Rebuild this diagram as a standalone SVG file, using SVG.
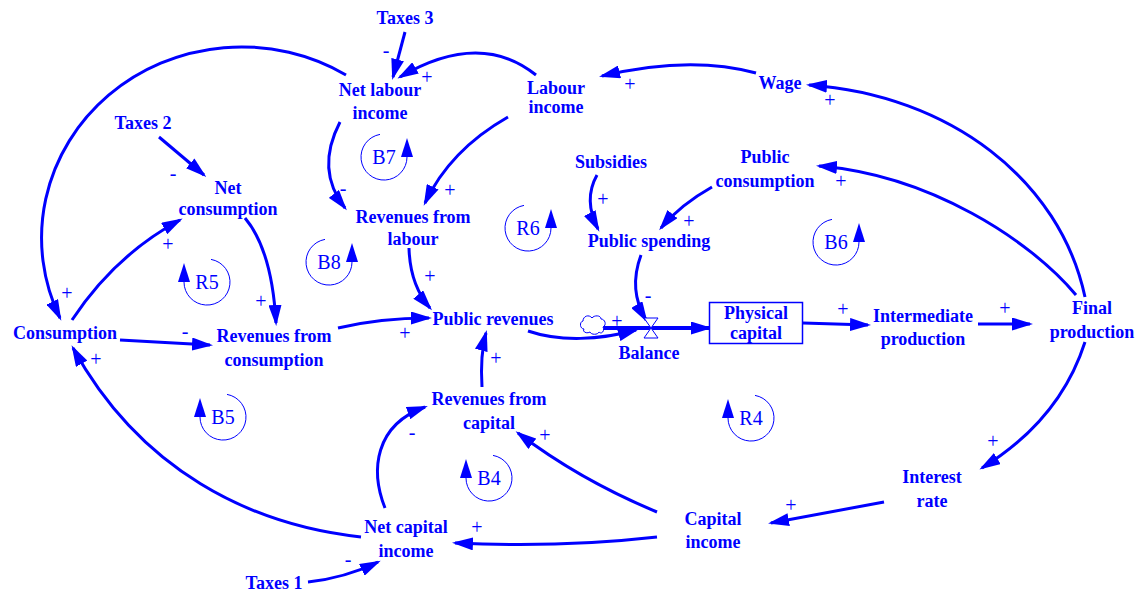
<svg xmlns="http://www.w3.org/2000/svg" width="1141" height="594" viewBox="0 0 1141 594">
<style>
.n{font-family:"Liberation Serif","Times New Roman",serif;font-weight:bold;font-size:18px;fill:#0000ff;text-anchor:middle}
.p{font-family:"Liberation Serif","Times New Roman",serif;font-size:20px;fill:#0000ff;text-anchor:middle}
.l{font-family:"Liberation Serif","Times New Roman",serif;font-size:20px;fill:#0000ff;text-anchor:middle}
.c{fill:none;stroke:#0000ff;stroke-width:3;marker-end:url(#ah)}
.pipe{fill:none;stroke:#0000ff;stroke-width:4;marker-end:url(#ah)}
.lc{fill:none;stroke:#0000ff;stroke-width:1}
.la{fill:#0000ff}
</style>
<defs>
<marker id="ah" viewBox="0 0 21 13" markerWidth="21" markerHeight="13" refX="18" refY="6.5" orient="auto" markerUnits="userSpaceOnUse">
<path d="M0,0 L21,6.5 L0,13 z" fill="#0000ff"/>
</marker>
</defs>
<rect width="1141" height="594" fill="#ffffff"/>

<g id="connectors">
<path class="c" d="M405,32 L393,77"/>
<path class="c" d="M536,75 Q480,30 400,77"/>
<path class="c" d="M346,75 A200,191 0 0 0 60,318"/>
<path class="c" d="M340,122 Q315,170 345,208"/>
<path class="c" d="M508,117 Q450,150 425,203"/>
<path class="c" d="M756,73 Q690,55 602,76"/>
<path class="c" d="M1085,297 C1060,180 950,95 809,85"/>
<path class="c" d="M1076,295 C1030,240 930,175 819,166"/>
<path class="c" d="M159,137 L204,175"/>
<path class="c" d="M72,320 Q115,255 180,220"/>
<path class="c" d="M245,218 Q272,250 276,323"/>
<path class="c" d="M120,340 L210,345"/>
<path class="c" d="M338,328 Q380,318 429,318"/>
<path class="c" d="M409,248 Q410,285 430,308"/>
<path class="c" d="M597,175 Q583,200 598,229"/>
<path class="c" d="M712,187 Q680,205 661,228"/>
<path class="c" d="M641,255 Q628,290 646,320"/>
<path class="c" d="M528,331 C560,342 600,340 636,330"/>
<path class="pipe" d="M602,328 L709,328"/>
<path class="c" d="M803,323 L868,325"/>
<path class="c" d="M978,324 L1030,324"/>
<path class="c" d="M1085,342 Q1060,420 982,468"/>
<path class="c" d="M884,502 L771,523"/>
<path class="c" d="M657,512 Q580,480 518,433"/>
<path class="c" d="M657,537 Q560,548 455,543"/>
<path class="c" d="M361,537 C250,525 140,470 73,348"/>
<path class="c" d="M385,508 C370,470 375,425 425,407"/>
<path class="c" d="M482,387 Q480,355 486,333"/>
<path class="c" d="M308,582 Q345,578 378,562"/>
</g>

<g id="polarities">
<text class="p" x="386" y="57">-</text>
<text class="p" x="427" y="84">+</text>
<text class="p" x="67" y="300">+</text>
<text class="p" x="343" y="195">-</text>
<text class="p" x="450" y="197">+</text>
<text class="p" x="630" y="91">+</text>
<text class="p" x="830" y="107">+</text>
<text class="p" x="841" y="188">+</text>
<text class="p" x="173" y="180">-</text>
<text class="p" x="168" y="251">+</text>
<text class="p" x="261" y="308">+</text>
<text class="p" x="185" y="338">-</text>
<text class="p" x="405" y="340">+</text>
<text class="p" x="430" y="283">+</text>
<text class="p" x="603" y="206">+</text>
<text class="p" x="689" y="228">+</text>
<text class="p" x="648" y="302">-</text>
<text class="p" x="617" y="328">+</text>
<text class="p" x="843" y="316">+</text>
<text class="p" x="1005" y="315">+</text>
<text class="p" x="993" y="448">+</text>
<text class="p" x="791" y="512">+</text>
<text class="p" x="545" y="442">+</text>
<text class="p" x="477" y="534">+</text>
<text class="p" x="96" y="366">+</text>
<text class="p" x="412" y="439">-</text>
<text class="p" x="496" y="365">+</text>
<text class="p" x="348" y="566">-</text>
</g>

<g id="taxes3"><text class="n" x="405" y="24">Taxes 3</text></g>
<g id="net-labour-income"><text class="n" x="380" y="96">Net labour</text><text class="n" x="380" y="119">income</text></g>
<g id="labour-income"><text class="n" x="556" y="94">Labour</text><text class="n" x="556" y="113">income</text></g>
<g id="wage"><text class="n" x="780" y="89">Wage</text></g>
<g id="taxes2"><text class="n" x="143" y="129">Taxes 2</text></g>
<g id="net-consumption"><text class="n" x="228" y="194">Net</text><text class="n" x="228" y="215">consumption</text></g>
<g id="subsidies"><text class="n" x="611" y="168">Subsidies</text></g>
<g id="public-consumption"><text class="n" x="765" y="163">Public</text><text class="n" x="765" y="187">consumption</text></g>
<g id="revenues-labour"><text class="n" x="413" y="223">Revenues from</text><text class="n" x="413" y="245">labour</text></g>
<g id="public-spending"><text class="n" x="649" y="247">Public spending</text></g>
<g id="consumption"><text class="n" x="65" y="339">Consumption</text></g>
<g id="revenues-consumption"><text class="n" x="274" y="342">Revenues from</text><text class="n" x="274" y="366">consumption</text></g>
<g id="public-revenues"><text class="n" x="493" y="325">Public revenues</text></g>
<g id="balance">
<path d="M584,329 c-4,0 -5,-7 -1,-8 c0,-5 6,-7 9,-3 c2,-3 9,-3 9,1 c4,0 6,6 2,8 c2,3 -1,8 -4,5 c-1,3 -8,3 -9,0 c-3,2 -8,0 -6,-3 z" fill="#ffffff" stroke="#0000ff" stroke-width="1"/>
<path d="M644,318 L658,318 L644,338 L658,338 z" fill="#ffffff" stroke="#0000ff" stroke-width="1"/>
<text class="n" x="649" y="359">Balance</text>
</g>
<g id="physical-capital"><rect x="709.5" y="302.5" width="93" height="41" fill="#ffffff" stroke="#0000ff" stroke-width="1.5"/><text class="n" x="756" y="319">Physical</text><text class="n" x="756" y="339">capital</text></g>
<g id="intermediate-production"><text class="n" x="923" y="322">Intermediate</text><text class="n" x="923" y="345">production</text></g>
<g id="final-production"><text class="n" x="1092" y="314">Final</text><text class="n" x="1092" y="338">production</text></g>
<g id="revenues-capital"><text class="n" x="489" y="405">Revenues from</text><text class="n" x="489" y="429">capital</text></g>
<g id="interest-rate"><text class="n" x="932" y="483">Interest</text><text class="n" x="932" y="507">rate</text></g>
<g id="capital-income"><text class="n" x="713" y="525">Capital</text><text class="n" x="713" y="548">income</text></g>
<g id="net-capital-income"><text class="n" x="406" y="533">Net capital</text><text class="n" x="406" y="557">income</text></g>
<g id="taxes1"><text class="n" x="274" y="589">Taxes 1</text></g>

<g id="loop-B7"><path class="lc" d="M380,134.4 A23,23 0 1 0 407,157"/><path class="la" d="M407,138 L401,157 L413,157 z"/><text class="l" x="384" y="164">B7</text></g>
<g id="loop-B8"><path class="lc" d="M325,239.4 A23,23 0 1 0 352,262"/><path class="la" d="M352,243 L346,262 L358,262 z"/><text class="l" x="329" y="269">B8</text></g>
<g id="loop-R6"><path class="lc" d="M524,205.4 A23,23 0 1 0 551,228"/><path class="la" d="M551,209 L545,228 L557,228 z"/><text class="l" x="528" y="235">R6</text></g>
<g id="loop-B6"><path class="lc" d="M832,219.4 A23,23 0 1 0 859,242"/><path class="la" d="M859,223 L853,242 L865,242 z"/><text class="l" x="836" y="249">B6</text></g>
<g id="loop-R5"><path class="lc" d="M211,259.4 A23,23 0 1 1 184,282"/><path class="la" d="M184,263 L178,282 L190,282 z"/><text class="l" x="207" y="289">R5</text></g>
<g id="loop-B5"><path class="lc" d="M227,394.4 A23,23 0 1 1 200,417"/><path class="la" d="M200,398 L194,417 L206,417 z"/><text class="l" x="223" y="424">B5</text></g>
<g id="loop-R4"><path class="lc" d="M755,395.4 A23,23 0 1 1 728,418"/><path class="la" d="M728,399 L722,418 L734,418 z"/><text class="l" x="751" y="425">R4</text></g>
<g id="loop-B4"><path class="lc" d="M493,455.4 A23,23 0 1 1 466,478"/><path class="la" d="M466,459 L460,478 L472,478 z"/><text class="l" x="489" y="485">B4</text></g>
</svg>
